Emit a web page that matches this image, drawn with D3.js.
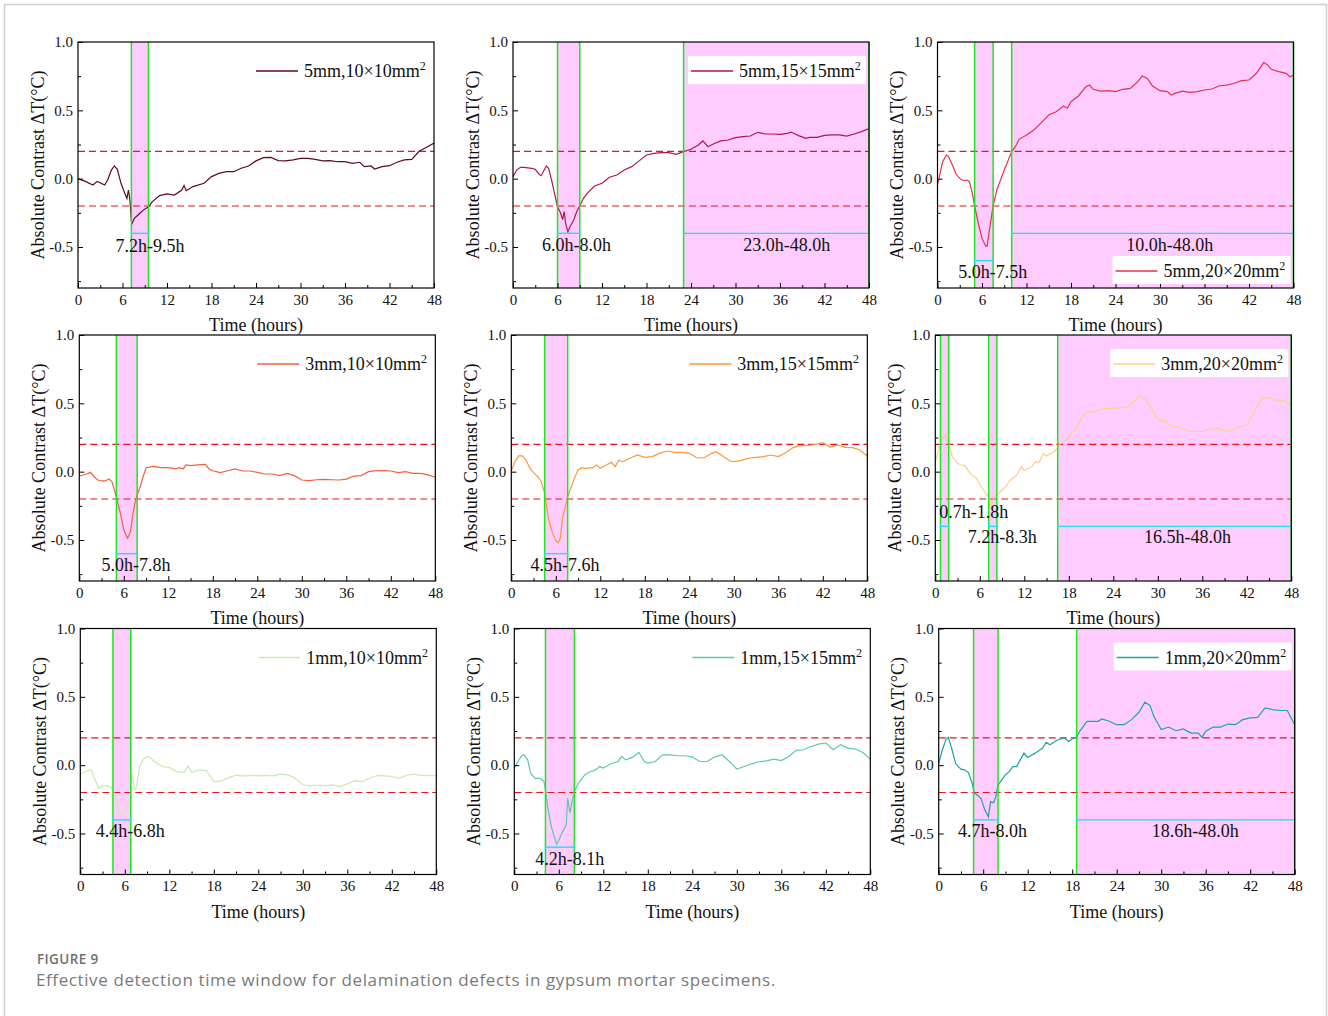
<!DOCTYPE html>
<html>
<head>
<meta charset="utf-8">
<script src="https://cdn.jsdelivr.net/npm/d3@7"></script>
<style>
  body { margin: 0; background: #fff; }
</style>
</head>
<body>
<div id="chart"></div>
<script>
// Absolute contrast ΔT (°C) against time (hours)
var s5mm10 = [[0,0.0],[1,-0.02],[2,-0.046],[2.6,-0.02],[3.6,-0.046],[4,-0.01],[4.5,0.063],[4.9,0.093],[5.3,0.068],[5.8,-0.034],[6.3,-0.107],[6.6,-0.144],[6.8,-0.083],[7.0,-0.156],[7.2,-0.315],[7.3,-0.327],[7.6,-0.29],[8.2,-0.26],[8.8,-0.23],[9.5,-0.205],[10,-0.17],[11,-0.124],[12,-0.112],[13,-0.12],[14,-0.083],[14.3,-0.05],[14.6,-0.088],[15.5,-0.058],[17,-0.034],[18,0.015],[19,0.039],[20,0.051],[21,0.051],[22,0.076],[23,0.093],[24,0.13],[25,0.154],[26,0.156],[27,0.132],[28,0.13],[29,0.137],[30,0.149],[31,0.149],[32,0.141],[33,0.13],[34,0.132],[35,0.124],[36,0.124],[37,0.112],[38,0.12],[38.6,0.088],[39.5,0.093],[40,0.071],[41,0.088],[42,0.095],[43,0.12],[44,0.137],[45,0.141],[46,0.2],[47,0.23],[48,0.26]];
var s5mm15 = [[0,0.015],[0.5,0.063],[1,0.083],[1.5,0.083],[2.5,0.076],[3,0.068],[3.5,0.034],[3.8,0.022],[4.2,0.063],[4.5,0.093],[4.8,0.076],[5.2,-0.01],[5.6,-0.107],[6.0,-0.205],[6.4,-0.25],[6.7,-0.30],[6.9,-0.24],[7.1,-0.327],[7.4,-0.39],[7.7,-0.35],[8.2,-0.30],[8.6,-0.24],[9.0,-0.198],[9.5,-0.144],[10,-0.107],[11,-0.054],[12,-0.034],[13,0.01],[14,0.027],[15,0.063],[16,0.088],[17,0.13],[18,0.173],[19,0.185],[20,0.19],[21,0.19],[22,0.178],[23,0.198],[24,0.215],[25,0.246],[25.6,0.276],[26.3,0.234],[27,0.254],[28,0.276],[29,0.283],[30,0.3],[31,0.307],[32,0.312],[33,0.339],[34,0.327],[35,0.327],[36,0.324],[37,0.332],[37.5,0.341],[38.5,0.315],[39.5,0.295],[40,0.302],[41,0.302],[42,0.317],[43,0.32],[44,0.32],[45,0.312],[46,0.327],[47,0.344],[48,0.366]];
var s5mm20 = [[0,-0.046],[0.3,0.027],[0.7,0.124],[1.2,0.173],[1.5,0.161],[2,0.1],[2.5,0.034],[3,0.002],[3.5,-0.015],[4,-0.01],[4.3,-0.022],[4.7,-0.107],[5.0,-0.198],[5.5,-0.327],[6,-0.437],[6.5,-0.493],[6.7,-0.493],[7.0,-0.376],[7.5,-0.198],[8,-0.083],[8.5,-0.01],[9,0.063],[9.5,0.13],[10,0.198],[10.5,0.234],[11,0.288],[12,0.32],[13,0.356],[14,0.41],[15,0.466],[16,0.49],[17,0.532],[17.5,0.515],[18,0.563],[19,0.605],[20,0.673],[20.5,0.685],[21,0.654],[22,0.641],[23,0.644],[24,0.637],[25,0.654],[26,0.661],[27,0.71],[27.6,0.751],[28.3,0.734],[29,0.678],[30,0.644],[31,0.637],[31.5,0.612],[32,0.624],[33,0.641],[34,0.632],[35,0.637],[36,0.649],[37,0.656],[38,0.68],[39,0.685],[40,0.698],[41,0.717],[42,0.722],[43,0.771],[44,0.851],[44.5,0.832],[45,0.8],[46,0.783],[47,0.771],[47.5,0.746],[48,0.756]];
var s3mm10 = [[0,-0.032],[1,-0.017],[1.5,-0.005],[2,-0.037],[2.5,-0.061],[3,-0.068],[3.5,-0.068],[4,-0.054],[4.4,-0.073],[4.8,-0.146],[5.2,-0.232],[5.6,-0.317],[6,-0.427],[6.5,-0.488],[6.9,-0.439],[7.2,-0.317],[7.5,-0.232],[7.8,-0.171],[8.2,-0.11],[8.6,-0.037],[9,0.029],[10,0.039],[11,0.029],[12,0.029],[13,0.02],[13.5,0.029],[14,0.02],[14.4,0.049],[15,0.044],[16,0.049],[17,0.054],[17.5,0.02],[18,0.007],[19,-0.007],[20,0.007],[21,0.02],[22,0.005],[23,0.005],[24,-0.005],[25,-0.017],[26,-0.017],[27,-0.029],[28,-0.012],[29,-0.029],[30,-0.061],[31,-0.066],[32,-0.059],[33,-0.056],[34,-0.059],[35,-0.061],[36,-0.054],[37,-0.032],[38,-0.029],[39,0.0],[40,0.007],[41,0.007],[42,0.005],[43,-0.007],[44,0.0],[45,-0.012],[46,-0.012],[47,-0.024],[48,-0.041]];
var s3mm15 = [[0,0.005],[0.5,0.073],[1,0.115],[1.5,0.115],[2,0.085],[2.5,0.024],[3,-0.007],[3.5,-0.032],[4,-0.068],[4.5,-0.159],[5,-0.341],[5.5,-0.439],[6,-0.507],[6.3,-0.52],[6.6,-0.488],[6.9,-0.341],[7.3,-0.256],[7.6,-0.183],[8,-0.122],[8.5,-0.049],[9,0.012],[9.5,0.029],[10,0.024],[11,0.029],[11.5,0.049],[12,0.024],[13,0.054],[13.5,0.068],[14,0.037],[14.5,0.085],[15,0.073],[16,0.098],[17,0.122],[18,0.105],[19,0.11],[20,0.134],[21,0.151],[22,0.141],[23,0.141],[24,0.134],[25,0.102],[26,0.102],[27,0.134],[27.6,0.146],[28.5,0.115],[29.5,0.078],[30,0.073],[31,0.083],[32,0.098],[33,0.105],[34,0.11],[35,0.122],[36,0.11],[37,0.139],[38,0.176],[39,0.19],[40,0.19],[41,0.2],[42,0.212],[43,0.178],[44,0.195],[45,0.178],[46,0.176],[47,0.159],[48,0.115]];
var s3mm20 = [[0,0.073],[0.5,0.171],[1,0.256],[1.3,0.268],[1.8,0.207],[2.3,0.11],[3,0.061],[3.5,0.049],[4,0.044],[4.5,0.0],[5,-0.029],[5.5,-0.044],[6,-0.093],[6.5,-0.134],[7,-0.176],[7.2,-0.159],[7.5,-0.256],[7.9,-0.195],[8.3,-0.171],[9,-0.134],[9.5,-0.11],[10,-0.068],[11,-0.024],[11.6,0.037],[12,0.007],[13,0.037],[13.5,0.073],[14,0.068],[14.6,0.134],[15,0.115],[16,0.146],[16.5,0.176],[17,0.215],[17.5,0.224],[18,0.256],[19,0.317],[20,0.415],[20.5,0.444],[21,0.434],[22,0.451],[23,0.463],[24,0.463],[25,0.468],[26,0.476],[27,0.524],[27.5,0.556],[28.3,0.537],[29,0.476],[30,0.383],[31,0.366],[32,0.329],[33,0.327],[34,0.298],[35,0.293],[36,0.293],[37,0.31],[38,0.317],[39,0.298],[40,0.298],[41,0.329],[42,0.341],[43,0.434],[44,0.537],[45,0.541],[46,0.524],[47,0.524],[48,0.48]];
var s1mm10 = [[0,-0.066],[1,-0.039],[1.5,-0.034],[2,-0.108],[2.5,-0.169],[3,-0.15],[4,-0.157],[4.4,-0.181],[4.8,-0.243],[5.2,-0.328],[5.6,-0.365],[6,-0.353],[6.4,-0.292],[6.8,-0.243],[7,-0.059],[7.3,-0.169],[7.5,-0.181],[8,-0.01],[8.5,0.044],[9,0.064],[9.5,0.051],[10,0.027],[11,-0.01],[12,-0.017],[13,-0.047],[14,-0.054],[14.5,-0.005],[15,-0.054],[16,-0.034],[17,-0.039],[18,-0.12],[19,-0.115],[20,-0.091],[21,-0.074],[22,-0.078],[23,-0.076],[24,-0.078],[25,-0.074],[26,-0.078],[27,-0.066],[28,-0.071],[29,-0.096],[30,-0.145],[31,-0.15],[32,-0.147],[33,-0.152],[34,-0.145],[35,-0.157],[36,-0.137],[37,-0.113],[38,-0.12],[39,-0.096],[40,-0.076],[41,-0.078],[42,-0.083],[43,-0.096],[44,-0.074],[45,-0.066],[46,-0.074],[47,-0.076],[48,-0.076]];
var s1mm15 = [[0,-0.022],[0.5,0.027],[1,0.069],[1.3,0.076],[1.8,0.039],[2.2,-0.059],[2.8,-0.096],[3.5,-0.096],[4,-0.12],[4.2,-0.181],[4.5,-0.304],[5,-0.451],[5.4,-0.525],[5.7,-0.578],[6,-0.549],[6.5,-0.488],[7,-0.439],[7.2,-0.243],[7.5,-0.348],[7.8,-0.267],[8.1,-0.194],[8.5,-0.145],[9,-0.108],[9.5,-0.071],[10,-0.054],[11,-0.034],[11.5,-0.01],[12,-0.022],[13,0.01],[14,0.027],[14.5,0.064],[15,0.039],[16,0.059],[16.8,0.093],[17.5,0.027],[18,0.015],[19,0.027],[20,0.076],[21,0.076],[22,0.069],[23,0.069],[24,0.059],[25,0.027],[26,0.027],[27,0.059],[28,0.076],[29,0.027],[30,-0.029],[31,-0.01],[32,0.01],[33,0.025],[34,0.032],[35,0.044],[36,0.034],[37,0.064],[38,0.108],[39,0.113],[40,0.137],[41,0.154],[42,0.162],[43,0.113],[44,0.15],[45,0.125],[46,0.118],[47,0.093],[48,0.044]];
var s1mm20 = [[0,0.015],[0.5,0.113],[1,0.191],[1.3,0.203],[1.8,0.113],[2.3,0.01],[3,-0.029],[3.5,-0.034],[4,-0.054],[4.5,-0.132],[4.8,-0.206],[5.2,-0.218],[5.7,-0.243],[6.2,-0.324],[6.7,-0.377],[7,-0.267],[7.4,-0.275],[7.7,-0.23],[8,-0.145],[8.5,-0.108],[9,-0.071],[9.5,-0.047],[10,-0.01],[10.5,-0.01],[11,0.039],[11.5,0.088],[12,0.056],[13,0.088],[14,0.125],[14.5,0.167],[15,0.15],[16,0.184],[17,0.199],[17.5,0.174],[18,0.191],[18.6,0.206],[19,0.248],[20,0.321],[21,0.321],[21.5,0.321],[22,0.338],[23,0.321],[24,0.296],[25,0.296],[26,0.333],[27,0.387],[27.8,0.461],[28.5,0.436],[29,0.358],[30,0.26],[31,0.279],[32,0.252],[33,0.265],[34,0.235],[35,0.235],[35.5,0.203],[36,0.248],[37,0.279],[38,0.279],[39,0.301],[40,0.296],[41,0.333],[42,0.346],[43,0.35],[44,0.419],[45,0.407],[46,0.4],[47,0.4],[48,0.296]];

var seriesData = [s5mm10, s5mm15, s5mm20, s3mm10, s3mm15, s3mm20, s1mm10, s1mm15, s1mm20];
var seriesNames = ["5mm,10×10mm", "5mm,15×15mm", "5mm,20×20mm",
                   "3mm,10×10mm", "3mm,15×15mm", "3mm,20×20mm",
                   "1mm,10×10mm", "1mm,15×15mm", "1mm,20×20mm"];
var seriesColors = ["#5c0b22", "#b1184a", "#e3334f", "#f3603e", "#f8983f", "#fdd08a", "#cce9ae", "#5ec9a2", "#1da3a8"];

// detection windows (start h, end h) and their cyan marker level
var windows = [
  [[7.2, 9.5]],
  [[6.0, 9.0], [23.0, 48.0]],
  [[5.0, 7.5], [10.0, 48.0]],
  [[5.0, 7.8]],
  [[4.5, 7.6]],
  [[0.7, 1.8], [7.2, 8.3], [16.5, 48.0]],
  [[4.4, 6.8]],
  [[4.2, 8.1]],
  [[4.7, 8.0], [18.6, 48.0]]
];
var markerLevels = [[-0.4], [-0.4, -0.4], [-0.6, -0.4], [-0.6], [-0.6], [-0.4, -0.4, -0.4], [-0.4], [-0.6], [-0.4, -0.4]];
var windowLabels = [
  ["7.2h-9.5h"], ["6.0h-8.0h", "23.0h-48.0h"], ["5.0h-7.5h", "10.0h-48.0h"],
  ["5.0h-7.8h"], ["4.5h-7.6h"], ["0.7h-1.8h", "7.2h-8.3h", "16.5h-48.0h"],
  ["4.4h-6.8h"], ["4.2h-8.1h"], ["4.7h-8.0h", "18.6h-48.0h"]
];
var thresholds = [0.2, -0.2];
var xTicks = [0, 6, 12, 18, 24, 30, 36, 42, 48];
var xMinor = [3, 9, 15, 21, 27, 33, 39, 45];
var yTicks = [-0.5, 0.0, 0.5, 1.0];
var yMinor = [-0.75, -0.25, 0.25, 0.75];

// layout (pixels) and label anchors (in axis units)
var panelBox = [
  [78, 42], [513, 42], [937.5, 42],
  [79.3, 335], [511.3, 335], [935.3, 335],
  [80.3, 628.5], [514.3, 628.5], [938.7, 628.5]
];
var labelAt = [
  [[9.7, -0.54]], [[8.55, -0.53], [36.9, -0.53]], [[7.46, -0.725], [31.3, -0.53]],
  [[7.64, -0.727]], [[7.24, -0.727]], [[5.2, -0.34], [9.03, -0.525], [34.0, -0.525]],
  [[6.74, -0.525]], [[7.47, -0.73]], [[7.25, -0.525], [34.6, -0.525]]
];
var legendBottom = [false, false, true, false, false, false, false, false, false];

var W = 1328, H = 1016, pw = 356, ph = 246;
var serif = "'Liberation Serif', 'Times New Roman', serif";

var svg = d3.select("#chart").append("svg")
    .attr("width", W)
    .attr("height", H);

// light frame round the figure
svg.append("rect")
    .attr("x", 4.5).attr("y", 4.5)
    .attr("width", W - 6).attr("height", H + 10)
    .attr("fill", "none")
    .attr("stroke", "#cfcfcf")
    .attr("stroke-width", 1.5);

var x = d3.scaleLinear().domain([0, 48]).range([0, pw]);
var y = d3.scaleLinear().domain([-0.8, 1.0]).range([ph, 0]);

function fmtY(d) { return d3.format(".1f")(d).replace("−", "-"); }

seriesData.forEach(function (data, i) {
    var g = svg.append("g")
        .attr("transform", "translate(" + panelBox[i][0] + "," + panelBox[i][1] + ")");

    // pink windows
    g.selectAll(".win")
        .data(windows[i])
        .enter().append("rect")
        .attr("x", function (d) { return x(d[0]); })
        .attr("width", function (d) { return x(d[1]) - x(d[0]); })
        .attr("y", 0)
        .attr("height", ph)
        .attr("fill", "#ffccff");

    // threshold lines
    g.selectAll(".thr")
        .data(thresholds)
        .enter().append("line")
        .attr("x1", 0).attr("x2", pw)
        .attr("y1", function (d) { return y(d); })
        .attr("y2", function (d) { return y(d); })
        .attr("stroke", "#e8141c")
        .attr("stroke-width", 1.2)
        .attr("stroke-dasharray", "7,4");

    // the curve
    g.append("path")
        .datum(data)
        .attr("fill", "none")
        .attr("stroke", seriesColors[i])
        .attr("stroke-width", 1.2)
        .attr("d", d3.line()
            .x(function (d) { return x(d[0]); })
            .y(function (d) { return y(d[1]); }));

    // green window edges
    windows[i].forEach(function (w) {
        w.forEach(function (t) {
            g.append("line")
                .attr("x1", x(t)).attr("x2", x(t))
                .attr("y1", 0).attr("y2", ph)
                .attr("stroke", "#1ee61e")
                .attr("stroke-width", 1.5);
        });
    });

    // cyan span markers
    windows[i].forEach(function (w, j) {
        var yy = y(markerLevels[i][j]);
        g.append("line")
            .attr("x1", x(w[0])).attr("x2", x(w[1]))
            .attr("y1", yy).attr("y2", yy)
            .attr("stroke", "#1ee0f0")
            .attr("stroke-width", 1.4);
        [w[0], w[1]].forEach(function (t) {
            g.append("line")
                .attr("x1", x(t)).attr("x2", x(t))
                .attr("y1", yy - 2).attr("y2", yy + 2)
                .attr("stroke", "#1ee0f0")
                .attr("stroke-width", 1.4);
        });
    });

    // window labels
    windowLabels[i].forEach(function (txt, j) {
        g.append("text")
            .attr("x", x(labelAt[i][j][0]))
            .attr("y", y(labelAt[i][j][1]))
            .attr("text-anchor", "middle")
            .attr("font-family", serif)
            .attr("font-size", 18)
            .attr("fill", "#111")
            .text(txt);
    });

    // axes, ticks pointing inward (minor and major in separate groups)
    g.append("g")
        .attr("transform", "translate(0," + ph + ")")
        .call(d3.axisBottom(x).tickValues(xMinor).tickSize(-3).tickFormat(""));
    g.append("g")
        .attr("transform", "translate(0," + ph + ")")
        .call(d3.axisBottom(x).tickValues(xTicks).tickSize(-5).tickPadding(6).tickFormat(d3.format("d")))
        .attr("font-family", serif).attr("font-size", 15);
    g.append("g")
        .call(d3.axisLeft(y).tickValues(yMinor).tickSize(-3).tickFormat(""));
    g.append("g")
        .call(d3.axisLeft(y).tickValues(yTicks).tickSize(-5).tickPadding(5).tickFormat(fmtY))
        .attr("font-family", serif).attr("font-size", 15);

    g.selectAll(".tick text").attr("fill", "#111");
    g.selectAll(".domain").remove();
    g.selectAll(".tick line").attr("stroke", "#000");

    g.append("rect")
        .attr("width", pw).attr("height", ph)
        .attr("fill", "none")
        .attr("stroke", "#000")
        .attr("stroke-width", 1.2);

    // axis titles
    g.append("text")
        .attr("x", pw / 2)
        .attr("y", ph + 43)
        .attr("text-anchor", "middle")
        .attr("font-family", serif)
        .attr("font-size", 18)
        .attr("fill", "#111")
        .text("Time (hours)");

    g.append("text")
        .attr("transform", "translate(-34.5," + (ph / 2) + ") rotate(-90)")
        .attr("text-anchor", "middle")
        .attr("font-family", serif)
        .attr("font-size", 18)
        .attr("fill", "#111")
        .text("Absolute Contrast ΔT(°C)");

    // legend
    var ly = legendBottom[i] ? ph - 32 : 14;
    var lg = g.append("g").attr("transform", "translate(" + (pw - 181) + "," + ly + ")");
    if (windows[i].some(function (w) { return w[1] >= 48 && w[0] < 30; })) {
        lg.append("rect")
            .attr("width", 178).attr("height", 28)
            .attr("fill", "#fff");
    }
    lg.append("line")
        .attr("x1", 3).attr("x2", 45)
        .attr("y1", 15).attr("y2", 15)
        .attr("stroke", seriesColors[i])
        .attr("stroke-width", 1.3);
    var lt = lg.append("text")
        .attr("x", 51)
        .attr("y", 21)
        .attr("font-family", serif)
        .attr("font-size", 18)
        .attr("fill", "#111")
        .text(seriesNames[i]);
    lt.append("tspan")
        .attr("dy", -7)
        .attr("font-size", 12)
        .text("2");
});

// caption
svg.append("text")
    .attr("x", 37).attr("y", 964)
    .attr("font-family", "'Open Sans', sans-serif")
    .attr("font-size", 13.5)
    .attr("font-weight", 600)
    .attr("letter-spacing", 0.4)
    .attr("fill", "#6f6f6f")
    .text("FIGURE 9");

svg.append("text")
    .attr("x", 36).attr("y", 986)
    .attr("font-family", "'Open Sans', sans-serif")
    .attr("font-size", 17)
    .attr("letter-spacing", 0.6)
    .attr("fill", "#7a7a7a")
    .text("Effective detection time window for delamination defects in gypsum mortar specimens.");
</script>
</body>
</html>
